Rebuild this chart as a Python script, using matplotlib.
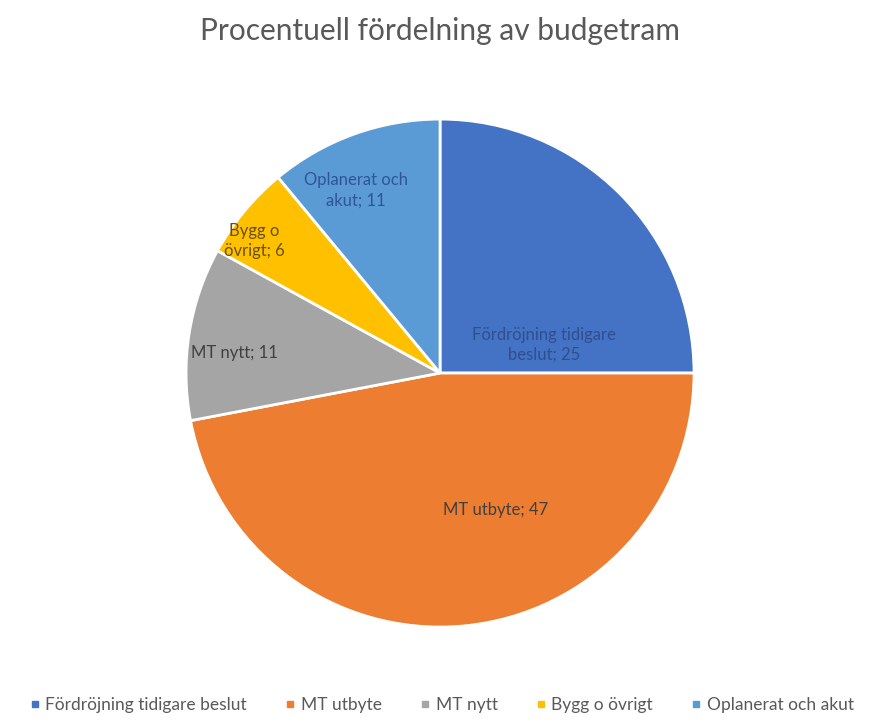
import numpy as np
import matplotlib.pyplot as plt
from matplotlib.lines import Line2D

plt.rcParams['font.family'] = ['Lato', 'DejaVu Sans']

# data
categories = ['Fördröjning tidigare beslut', 'MT utbyte', 'MT nytt', 'Bygg o övrigt', 'Oplanerat och akut']
values = [25, 47, 11, 6, 11]
labels = ['Fördröjning tidigare\nbeslut; 25', 'MT utbyte; 47', 'MT nytt; 11', 'Bygg o\növrigt; 6', 'Oplanerat och\nakut; 11']

colors = ['#4472C4', '#ED7D31', '#A5A5A5', '#FFC000', '#5B9BD5']
label_colors = ['#2F4F8F', '#404040', '#404040', '#6B5000', '#2F5597']
# label positions as fraction of the radius
label_pos = [(0.41, 0.11), (0.22, -0.54), (-0.81, 0.08), (-0.73, 0.52), (-0.33, 0.72)]

fig = plt.figure(figsize=(8.8, 7.23), dpi=100)
ax = fig.add_axes([0.5 - 0.2886, 0.484 - 0.3513, 0.5773, 0.7026])
ax.pie(values, colors=colors, startangle=90, counterclock=False,
       wedgeprops=dict(edgecolor='white', linewidth=2))
ax.set_xlim(-1.0, 1.0)
ax.set_ylim(-1.0, 1.0)
ax.set_aspect('equal')

for lab, (px, py), c in zip(labels, label_pos, label_colors):
    ax.text(px, py, lab, ha='center', va='center', fontsize=12, color=c, linespacing=1.3)

fig.text(0.5, 0.957, 'Procentuell fördelning av budgetram', ha='center', va='center',
         fontsize=21.5, color='#595959')

handles = [Line2D([], [], marker='s', linestyle='none', markersize=5, color=c) for c in colors]
fig.legend(handles, categories, loc='lower center', bbox_to_anchor=(0.5, -0.008), ncol=5,
           frameon=False, fontsize=12.5, handletextpad=0.1, columnspacing=2.0,
           labelcolor='#595959', handlelength=1.0)

fig.savefig('out.png', dpi=100)
